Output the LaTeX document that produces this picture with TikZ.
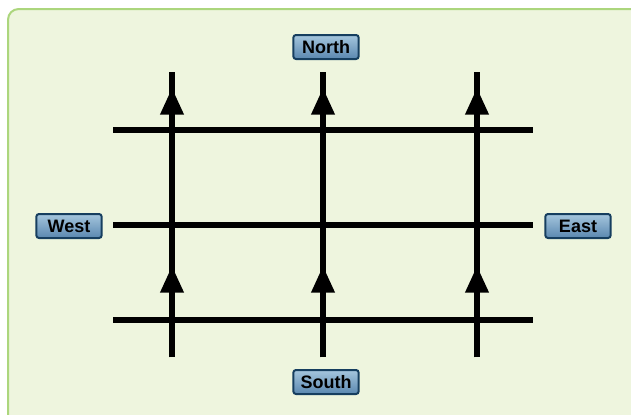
\documentclass[tikz,border=0pt]{standalone}
\usepackage{fontspec}
\setmainfont{Liberation Sans}
\usetikzlibrary{arrows.meta,positioning}
\definecolor{meadow}{RGB}{238,245,222}
\definecolor{meadowline}{RGB}{172,214,125}
\definecolor{steel}{RGB}{90,135,175}
\definecolor{steeltop}{RGB}{165,198,222}
\definecolor{navy}{RGB}{22,62,95}
\tikzset{
  >={Triangle[length=20pt,width=17pt]},
  road/.style={line width=3.8pt,draw=black},
  compass/.style={draw=navy,line width=1.5pt,top color=steeltop,bottom color=steel,
    rounded corners=2pt,minimum width=49pt,minimum height=18pt,inner sep=1pt,
    font=\fontsize{13.5}{15}\selectfont\bfseries},
}
\begin{document}
\begin{tikzpicture}[x=0.75pt,y=-0.75pt]
  \useasboundingbox (0,0) rectangle (631,414);
  \draw[meadowline,fill=meadow,line width=1.5pt,rounded corners=8pt] (8,9) rectangle (660,440);
  % compass points
  \node[compass] (north) at (326,47) {North};
  \node[compass] (south) at (326,382) {South};
  \node[compass] (west) at (69,226) {West};
  \node[compass] (east) at (578,226) {East};
  % east-west roads
  \foreach \y/\n in {130/top,225/mid,320/bot}
    \draw[road] (113,\y) coordinate (\n w) -- (533,\y) coordinate (\n e);
  % north-south roads
  \foreach \x/\n in {172/a,323/b,477/c}{
    \coordinate (\n s) at (\x,357);
    \coordinate (\n n) at (\x,72);
    \draw[road] (\n s) -- (\n n);
    \draw[road,->] (\n s) -- (\x,266);
    \draw[road,->] (\n s) -- (\x,88);
  }
\end{tikzpicture}
\end{document}
